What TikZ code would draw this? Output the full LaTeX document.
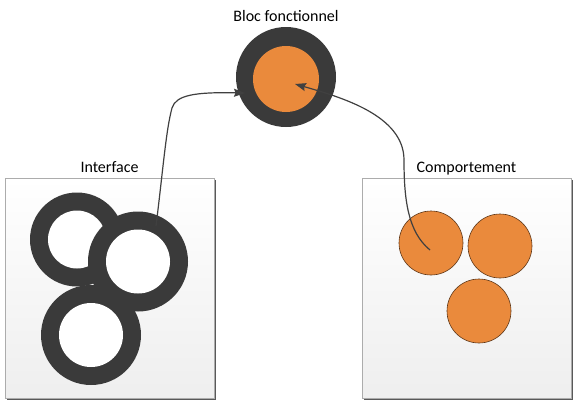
\documentclass[tikz,border=0pt]{standalone}
\usepackage{fontspec}
\setmainfont{Carlito}
\usetikzlibrary{positioning,arrows.meta}

\definecolor{ringgray}{HTML}{3A3A3A}
\definecolor{blocorange}{HTML}{EA8A3C}
\definecolor{linkgray}{HTML}{404040}

\begin{document}
\begin{tikzpicture}[x=1pt,y=-1pt,
  ring/.style={circle, fill=ringgray, inner sep=0pt, minimum size=#1},
  hole/.style={circle, fill=white, inner sep=0pt, minimum size=#1},
  core/.style={circle, fill=blocorange, inner sep=0pt, minimum size=#1},
  behav/.style={circle, fill=blocorange, draw=black!60!blocorange, line width=0.6pt,
    inner sep=0pt, minimum size=64pt},
  panel/.style={rectangle, draw=gray!65, line width=0.8pt, top color=white,
    bottom color=gray!13, minimum width=209pt, minimum height=220pt, inner sep=0pt},
  shadowline/.style={draw=gray!70!black, line width=1.2pt},
  lbl/.style={inner sep=0pt, font=\fontsize{16}{18}\selectfont},
  link/.style={draw=linkgray, line width=1.2pt, -{Stealth[length=11pt,width=8pt,inset=1.5pt]}}]

\useasboundingbox (0,0) rectangle (573,402);

% panels
\node[panel] (ifbox) at (109.5,288) {};
\node[panel] (cpbox) at (466.5,288) {};
\draw[shadowline] ([shift={(1pt,-2pt)}]ifbox.north east) -- ([shift={(1pt,-1pt)}]ifbox.south east)
  -- ([shift={(2pt,-1pt)}]ifbox.south west);
\draw[shadowline] ([shift={(1pt,-2pt)}]cpbox.north east) -- ([shift={(1pt,-1pt)}]cpbox.south east)
  -- ([shift={(2pt,-1pt)}]cpbox.south west);

\node[lbl, above=5pt of ifbox, anchor=base] (iflbl) {Interface};
\node[lbl, above=5pt of cpbox, anchor=base] (cplbl) {Comportement};

% interface rings
\node[ring=94pt] (ringA) at (77,239.5) {};
\node[hole=58pt] at (ringA) {};
\node[ring=100pt] (ringB) at (138,261.5) {};
\node[hole=64pt] at (ringB) {};
\node[ring=100pt] (ringC) at (91,335) {};
\node[hole=64pt] at (ringC) {};

% behaviour
\node[behav] (compA) at (431,243) {};
\node[behav] (compB) at (500,246) {};
\node[behav] (compC) at (479,311) {};

% functional block
\node[ring=100pt] (topring) at (286,77) {};
\node[core=66pt] (topcore) at (286,79) {};
\node[lbl, above=5pt of topring, anchor=base] (toplbl) {Bloc fonctionnel};

% links
\coordinate (ifout) at ([shift={(18,-35.5)}]ringB.center);
\coordinate (ifin) at ([shift={(-41,16)}]topring.center);
\coordinate (cpout) at ([shift={(-1,7)}]compA.center);
\coordinate (cpin) at ([shift={(9,5)}]topcore.center);

\draw[link] (ifout) .. controls (163,170) and (166,130) .. (172,108)
  .. controls (176,95) and (195,92) .. (ifin);
\draw[link] (cpout) .. controls (408,232) and (404,200) .. (404,160)
  .. controls (404,115) and (340,97) .. (cpin);

\end{tikzpicture}
\end{document}
